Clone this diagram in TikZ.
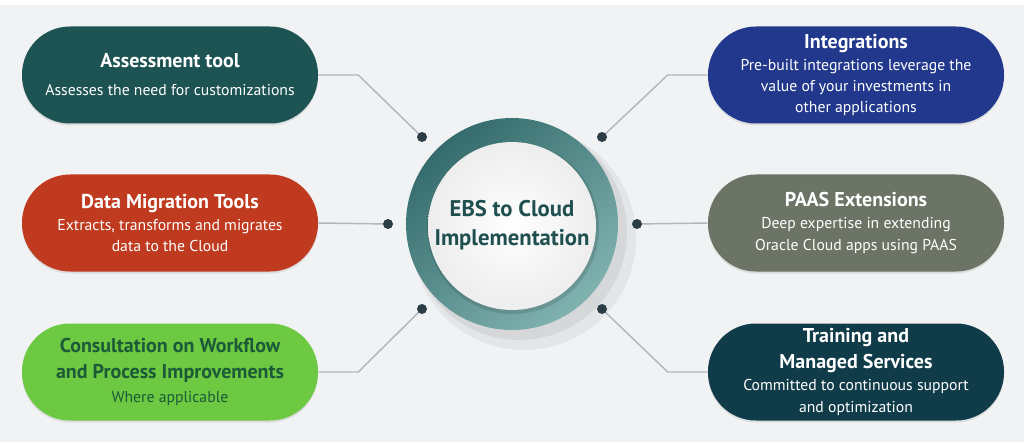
\documentclass[tikz,border=0pt]{standalone}
\usepackage{fontspec}
\setmainfont{PT Sans}
\usetikzlibrary{positioning,shadows,calc}

\definecolor{bgcol}{HTML}{F1F2F4}
\definecolor{assesscol}{HTML}{1D5353}
\definecolor{migcol}{HTML}{BF3A1E}
\definecolor{consultcol}{HTML}{6DC941}
\definecolor{consulttxt}{HTML}{1C5A38}
\definecolor{integcol}{HTML}{21388C}
\definecolor{paascol}{HTML}{6B7465}
\definecolor{traincol}{HTML}{0F3C48}
\definecolor{dotcol}{HTML}{2B3E48}
\definecolor{linkcol}{HTML}{B3B7BB}
\definecolor{ringdark}{HTML}{356B6C}
\definecolor{ringlight}{HTML}{80B2B0}
\definecolor{hubtxt}{HTML}{1F4F4F}

\newcommand{\pilltitle}[1]{{\fontsize{15}{16}\selectfont\bfseries #1}}

\begin{document}
\begin{tikzpicture}[
    x=0.75pt, y=-0.75pt,
    pill/.style={rounded corners=36pt, minimum width=222pt, minimum height=72.75pt,
        inner sep=2pt, align=center, text=white, font=\fontsize{11.8}{16}\selectfont,
        drop shadow={opacity=0.18, shadow xshift=0pt, shadow yshift=-1.5pt}},
    link/.style={draw=linkcol, line width=1.1pt}
]

% Background
\fill[white] (0,0) rectangle (1024,442);
\fill[bgcol] (0,5) rectangle (1024,442);
\useasboundingbox (0,0) rectangle (1024,442);

% Connector dots
\coordinate (dA) at (422,137);
\coordinate (dB) at (388,224);
\coordinate (dC) at (422,309);
\coordinate (dD) at (602,137);
\coordinate (dE) at (637,224);
\coordinate (dF) at (602,309);

% Centre hub
\fill[black, opacity=0.05] (524,238) circle (112);
\fill[black, opacity=0.06] (519,232) circle (108);
\shade[left color=ringdark, right color=ringlight, shading angle=40] (512,224) circle (106);
\fill[black, opacity=0.12] (513,228) circle (86);
\shade[inner color=white, outer color=black!7] (512,226) circle (84);
\node[font=\fontsize{17}{22}\selectfont\bfseries, text=hubtxt, align=center]
    (hub) at (512,225) {EBS to Cloud\\Implementation};

% Left pills
\node[pill, fill=assesscol] (assess) at (170,75)
    {\pilltitle{Assessment tool}\\[5pt]Assesses the need for customizations};
\node[pill, fill=migcol] (datamig) at (170,223)
    {\pilltitle{Data Migration Tools}\\[0.5pt]Extracts, transforms and migrates\\data to the Cloud};
\node[pill, fill=consultcol, text=consulttxt] (consult) at (170,372)
    {\pilltitle{Consultation on Workflow}\\[4pt]\pilltitle{and Process Improvements}\\[2pt]Where applicable};

% Right pills
\node[pill, fill=integcol] (integ) at (856,75)
    {\pilltitle{Integrations}\\[0.5pt]Pre-built integrations leverage the\\value of your investments in\\other applications};
\node[pill, fill=paascol] (paas) at (856,223)
    {\pilltitle{PAAS Extensions}\\[0.5pt]Deep expertise in extending\\Oracle Cloud apps using PAAS};
\node[pill, fill=traincol] (train) at (856,372)
    {\pilltitle{Training and}\\[3.5pt]\pilltitle{Managed Services}\\[0.5pt]Committed to continuous support\\and optimization};

% Connectors
\draw[link] (assess.east) -- ++(40,0) -- (dA);
\draw[link] (datamig.east) -- (dB);
\draw[link] (consult.east) -- ++(40,0) -- (dC);
\draw[link] (integ.west) -- ++(-40,0) -- (dD);
\draw[link] (paas.west) -- (dE);
\draw[link] (train.west) -- ++(-40,0) -- (dF);

% Dots on top of the lines
\foreach \d in {dA,dB,dC,dD,dE,dF}
    \fill[dotcol] (\d) circle (5);

\end{tikzpicture}
\end{document}
